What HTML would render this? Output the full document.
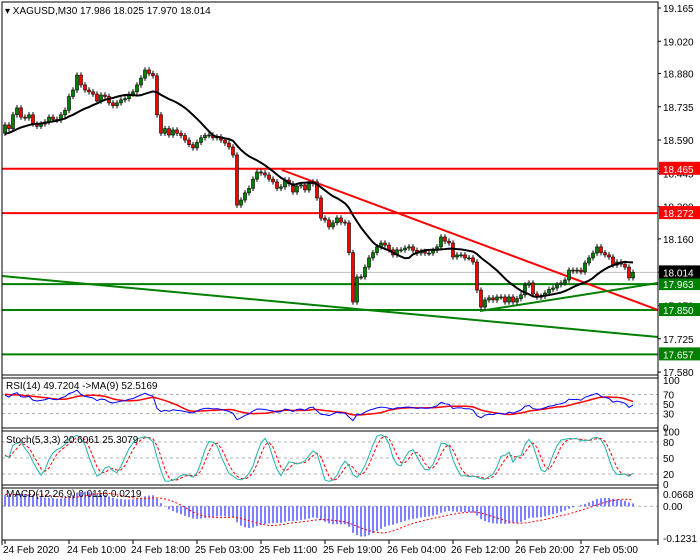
<!DOCTYPE html>
<html><head><meta charset="utf-8"><style>
body{margin:0;background:#fff;}
svg{display:block;font-family:"Liberation Sans",sans-serif;font-size:10px;}
</style></head><body>
<svg id="c" width="700" height="560" viewBox="0 0 700 560"></svg>
<script>
const priorCloses=[18.40,18.42,18.41,18.44,18.46,18.45,18.48,18.50,18.49,18.52,18.51,18.54,18.55,18.53,18.56,18.58,18.57,18.59,18.60,18.58,18.61,18.62,18.60,18.63,18.64,18.62,18.65,18.63,18.64,18.62];
const closes=[18.656,18.640,18.700,18.730,18.690,18.686,18.700,18.660,18.650,18.660,18.669,18.690,18.680,18.677,18.700,18.720,18.780,18.808,18.873,18.830,18.808,18.800,18.790,18.760,18.786,18.780,18.752,18.740,18.752,18.765,18.770,18.790,18.800,18.830,18.860,18.895,18.880,18.870,18.700,18.620,18.640,18.612,18.634,18.620,18.610,18.590,18.570,18.556,18.580,18.600,18.610,18.612,18.600,18.604,18.590,18.577,18.560,18.525,18.307,18.329,18.360,18.380,18.420,18.451,18.447,18.438,18.420,18.408,18.380,18.386,18.416,18.400,18.364,18.390,18.395,18.373,18.400,18.408,18.338,18.250,18.242,18.212,18.230,18.251,18.233,18.229,18.100,17.885,17.994,17.994,18.037,18.077,18.100,18.125,18.142,18.133,18.112,18.090,18.112,18.112,18.120,18.125,18.110,18.098,18.105,18.098,18.098,18.110,18.125,18.168,18.150,18.142,18.081,18.090,18.090,18.077,18.077,18.059,17.937,17.863,17.894,17.903,17.894,17.907,17.907,17.885,17.907,17.885,17.900,17.916,17.959,17.968,17.920,17.907,17.910,17.924,17.940,17.946,17.960,17.968,17.981,18.024,18.020,18.024,18.016,18.055,18.077,18.098,18.125,18.100,18.090,18.081,18.046,18.059,18.050,18.037,17.990,18.014];
const priceTicks=[19.165,19.020,18.880,18.735,18.590,18.445,18.300,18.160,18.015,17.870,17.725,17.580];
const redLevels=[18.465,18.272];
const greenLevels=[17.963,17.850,17.657];
const lastPrice=18.014;
const timeLabels=["24 Feb 2020","24 Feb 10:00","24 Feb 18:00","25 Feb 03:00","25 Feb 11:00","25 Feb 19:00","26 Feb 04:00","26 Feb 12:00","26 Feb 20:00","27 Feb 05:00"];
const timeLabelBars=[0,16,32,48,64,80,96,112,128,144];
const macdTicks=[0.0668,0,-0.1231];

const svg=document.getElementById('c');
const NS='http://www.w3.org/2000/svg';
function mk(tag,a,parent){const e=document.createElementNS(NS,tag);for(const k in a)e.setAttribute(k,a[k]);(parent||svg).appendChild(e);return e;}
const L=2,R=658;
const bx=i=>5+4*i;
const py=p=>8+(19.165-p)*229.7;
const rsiY=v=>427.7-v*0.475;
const stY=v=>484.6-v*0.533;
const mTop=489,mBot=538;
const mY=v=>mTop+(0.0668-v)/(0.0668+0.1231)*(mBot-mTop);

let f;
f=mk('rect',{x:L,y:2,width:R-L,height:373,fill:'none',stroke:'#000'});
f=mk('rect',{x:L,y:378,width:R-L,height:50,fill:'none',stroke:'#000'});
f=mk('rect',{x:L,y:431,width:R-L,height:54,fill:'none',stroke:'#000'});
f=mk('rect',{x:L,y:488,width:R-L,height:52,fill:'none',stroke:'#000'});

const full=priorCloses.concat(closes);
const N0=priorCloses.length;
const fOpens=full.map((c,i)=>i?full[i-1]:c);
const fHighs=full.map((c,i)=>Math.max(c,fOpens[i])+0.012);
const fLows=full.map((c,i)=>Math.min(c,fOpens[i])-0.012);
const opens=fOpens.slice(N0),highs=fHighs.slice(N0),lows=fLows.slice(N0);
const tail=a=>a.slice(N0);

priceTicks.forEach(p=>{const t=mk('text',{x:663,y:py(p)+4,fill:'#000'});t.textContent=p.toFixed(3);mk('line',{x1:R,x2:R+3,y1:py(p),y2:py(p),stroke:'#000'});});

mk('line',{x1:L,x2:R,y1:py(lastPrice),y2:py(lastPrice),stroke:'#c0c0c0'});

redLevels.forEach(p=>{const l=mk('line',{x1:L,x2:R,y1:py(p),y2:py(p),stroke:'#ff0000','stroke-width':2});});
greenLevels.forEach(p=>{const l=mk('line',{x1:L,x2:R,y1:py(p),y2:py(p),stroke:'#008000','stroke-width':2});});

let tl;
tl=mk('line',{x1:282,y1:170,x2:R,y2:310,stroke:'#ff0000','stroke-width':2});
tl=mk('line',{x1:L,y1:276,x2:R,y2:337,stroke:'#008000','stroke-width':2});
tl=mk('line',{x1:480,y1:311,x2:R,y2:283,stroke:'#008000','stroke-width':2});

closes.forEach((c,i)=>{const o=opens[i];const x=bx(i);
 mk('line',{x1:x,x2:x,y1:py(highs[i]),y2:py(lows[i]),stroke:'#000'});
 const top=py(Math.max(o,c)),h=Math.max(1,Math.abs(py(o)-py(c)));
 const r=mk('rect',{x:x-1.5,y:top,width:3,height:h,fill:c>=o?'#008000':'#ff0000',stroke:'#000','stroke-width':0.6});
 });

const sm=(arr,n)=>arr.map((v,i)=>{const s=arr.slice(Math.max(0,i-n+1),i+1);return s.reduce((a,b)=>a+b,0)/s.length;});
const ma=tail(sm(full,15));
let m=mk('polyline',{points:ma.map((v,i)=>bx(i)+','+py(v)).join(' '),fill:'none',stroke:'#000','stroke-width':2});


function box(p,bg,name){const y=py(p);const g=mk('g',{});
 mk('rect',{x:R+1,y:y-7,width:41,height:13,fill:bg},g);const t=mk('text',{x:663,y:y+4,fill:'#fff'},g);t.textContent=p.toFixed(3);}
redLevels.forEach(p=>box(p,'#ff0000','resistance-price-label'));
greenLevels.forEach(p=>box(p,'#008000','support-price-label'));
box(lastPrice,'#000','current-price-label');

let h=mk('text',{x:5,y:14,fill:'#000'});h.textContent='▾ XAGUSD,M30  17.986 18.025 17.970 18.014';

// RSI
const fr=[];{let ag=0,al=0;for(let i=0;i<full.length;i++){const d=i?full[i]-full[i-1]:0;const g=Math.max(d,0),l=Math.max(-d,0);if(i<14){ag=(ag*i+g)/(i+1);al=(al*i+l)/(i+1);}else{ag=(ag*13+g)/14;al=(al*13+l)/14;}fr.push(al===0?60:100-100/(1+ag/al));}}
const rsi=tail(fr),rsiMa=tail(sm(fr,9));
[70,50,30].forEach(v=>mk('line',{x1:L,x2:R,y1:rsiY(v),y2:rsiY(v),stroke:'#b0b0b0','stroke-dasharray':'3,3'}));
[100,70,50,30,0].forEach(v=>{const t=mk('text',{x:663,y:rsiY(v)+4});t.textContent=v;});
m=mk('polyline',{points:rsiMa.map((v,i)=>bx(i)+','+rsiY(v)).join(' '),fill:'none',stroke:'#ff0000','stroke-width':1.5});
m=mk('polyline',{points:rsi.map((v,i)=>bx(i)+','+rsiY(v)).join(' '),fill:'none',stroke:'#0000ff'});
h=mk('text',{x:6,y:389});h.textContent='RSI(14) 49.7204  ->MA(9) 52.5169';

// Stochastic
const rawK=full.map((c,i)=>{const a=Math.max(0,i-4);const hh=Math.max(...fHighs.slice(a,i+1)),ll=Math.min(...fLows.slice(a,i+1));return hh>ll?(c-ll)/(hh-ll)*100:50;});
const fK=sm(rawK,3),fD=sm(fK,3);
const stK=tail(fK),stD=tail(fD);
[80,50,20].forEach(v=>mk('line',{x1:L,x2:R,y1:stY(v),y2:stY(v),stroke:'#b0b0b0','stroke-dasharray':'3,3'}));
[100,80,50,20,0].forEach(v=>{const t=mk('text',{x:663,y:Math.min(stY(v)+4,488)});t.textContent=v;});
m=mk('polyline',{points:stD.map((v,i)=>bx(i)+','+stY(v)).join(' '),fill:'none',stroke:'#ff0000','stroke-dasharray':'3,2'});
m=mk('polyline',{points:stK.map((v,i)=>bx(i)+','+stY(v)).join(' '),fill:'none',stroke:'#20b2aa'});
h=mk('text',{x:6,y:443});h.textContent='Stoch(5,3,3) 20.6061 25.3079';

// MACD
const ema=(arr,n)=>{const k=2/(n+1);let e=arr[0];return arr.map(v=>e=v*k+e*(1-k));};
const e12=ema(full,12),e26=ema(full,26);
const fM=full.map((c,i)=>Math.max(-0.1231,Math.min(0.0668,e12[i]-e26[i])));
const macd=tail(fM),sig=tail(sm(fM,9));
mk('line',{x1:L,x2:R,y1:mY(0),y2:mY(0),stroke:'#b0b0b0','stroke-dasharray':'3,3'});
macd.forEach((v,i)=>{const b=mk('line',{x1:bx(i),x2:bx(i),y1:mY(0),y2:mY(v),stroke:'#0000ff'});});
m=mk('polyline',{points:sig.map((v,i)=>bx(i)+','+mY(v)).join(' '),fill:'none',stroke:'#ff0000','stroke-dasharray':'2,2'});
macdTicks.forEach(v=>{const t=mk('text',{x:663,y:Math.max(mY(v)+4,498)});t.textContent=v===0?'0.00':v.toFixed(4);});
h=mk('text',{x:6,y:497});h.textContent='MACD(12,26,9) 0.0116 0.0219';

mk('line',{x1:R,x2:R,y1:2,y2:545,stroke:'#000'});
mk('line',{x1:L,x2:L,y1:2,y2:545,stroke:'#000'});

timeLabels.forEach((s,k)=>{const x=bx(timeLabelBars[k]);mk('line',{x1:x,x2:x,y1:540,y2:544,stroke:'#000'});const t=mk('text',{x:x-2,y:553});t.textContent=s;});
</script>
</body></html>
